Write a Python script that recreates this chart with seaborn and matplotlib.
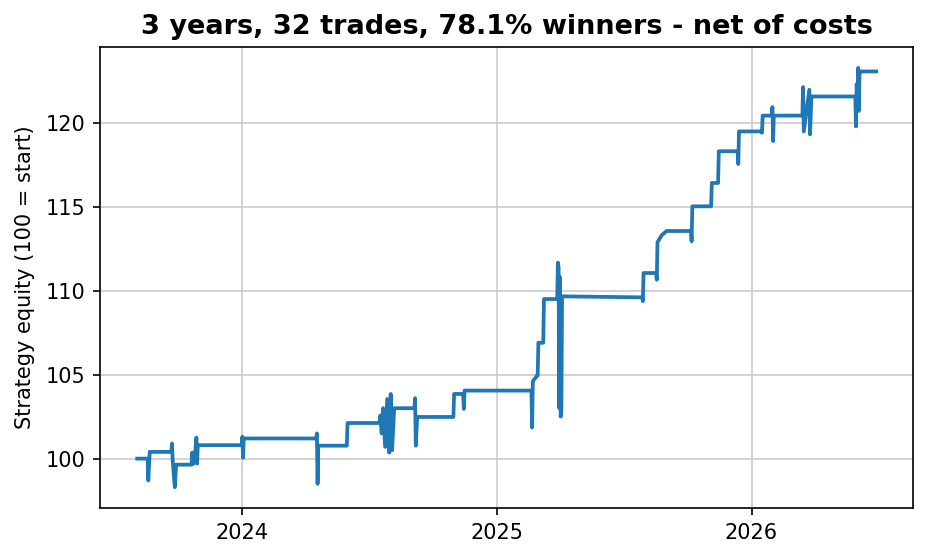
import pandas as pd
import matplotlib
matplotlib.use("Agg")
import matplotlib.pyplot as plt
import matplotlib.dates as mdates
import seaborn as sns

# equity curve (date, equity)
dates = [
    "2023-08-03", "2023-08-18", "2023-08-19", "2023-08-21", "2023-09-21",
    "2023-09-22", "2023-09-23", "2023-09-26", "2023-09-28", "2023-10-20",
    "2023-10-21", "2023-10-23", "2023-10-25", "2023-10-27", "2023-10-28",
    "2023-10-29", "2023-12-31", "2024-01-01", "2024-01-02", "2024-01-03",
    "2024-04-16", "2024-04-17", "2024-04-18", "2024-04-19", "2024-05-30",
    "2024-05-31", "2024-07-16", "2024-07-17", "2024-07-19", "2024-07-21",
    "2024-07-24", "2024-07-27", "2024-07-30", "2024-08-01", "2024-08-03",
    "2024-08-06", "2024-09-04", "2024-09-05", "2024-09-06", "2024-09-08",
    "2024-10-30", "2024-10-31", "2024-11-13", "2024-11-14", "2024-11-15",
    "2025-02-19", "2025-02-20", "2025-02-21", "2025-02-27", "2025-02-28",
    "2025-03-01", "2025-03-08", "2025-03-09", "2025-03-28", "2025-03-29",
    "2025-03-30", "2025-03-31", "2025-04-01", "2025-04-02", "2025-04-03",
    "2025-04-04", "2025-07-28", "2025-07-29", "2025-07-30",
    "2025-08-17", "2025-08-18", "2025-08-19", "2025-08-25", "2025-09-01",
    "2025-10-06", "2025-10-07", "2025-10-08", "2025-11-04", "2025-11-05",
    "2025-11-14", "2025-11-15", "2025-12-12", "2025-12-13", "2025-12-14",
    "2026-01-15", "2026-01-16", "2026-01-17", "2026-01-30", "2026-01-31",
    "2026-02-01", "2026-02-02", "2026-03-15", "2026-03-16", "2026-03-17",
    "2026-03-25", "2026-03-26", "2026-03-28", "2026-05-30", "2026-05-31",
    "2026-06-01", "2026-06-02", "2026-06-03", "2026-06-04", "2026-06-05",
    "2026-06-06", "2026-06-29",
]
equity = [
    100.0, 100.0, 98.7, 100.4, 100.4,
    100.9, 99.85, 98.3, 99.64, 99.64,
    100.36, 99.7, 100.2, 101.25, 99.7,
    100.8, 100.8, 101.3, 100.05, 101.2,
    101.2, 101.5, 98.5, 100.77, 100.77,
    102.12, 102.12, 102.56, 101.5, 103.0,
    100.7, 103.55, 100.36, 103.85, 100.5,
    103.0, 103.0, 103.6, 100.77, 102.48,
    102.48, 103.85, 103.85, 102.96, 104.05,
    104.05, 101.85, 104.6, 104.94, 104.94,
    106.9, 106.9, 109.5, 109.5, 111.67,
    111.4, 103.0, 110.8, 102.5, 102.8,
    109.66, 109.6, 109.37, 111.05,
    111.05, 110.65, 112.88, 113.3, 113.55,
    113.55, 112.94, 115.02, 115.02, 116.41,
    116.41, 118.3, 118.3, 117.54, 119.48,
    119.48, 119.4, 120.42, 120.42, 120.93,
    118.9, 120.42, 120.42, 122.12, 119.48,
    121.96, 119.3, 121.56, 121.56, 119.78,
    122.3, 120.9, 123.26, 120.7, 122.8,
    123.05, 123.05,
]

title = "3 years, 32 trades, 78.1% winners - net of costs"

df = pd.DataFrame({"date": pd.to_datetime(dates), "equity": equity})

fig, ax = plt.subplots(figsize=(928 / 150, 559 / 150), dpi=150)
sns.lineplot(data=df, x="date", y="equity", ax=ax, color="#1f77b4",
             linewidth=1.8, estimator=None, sort=False)

ax.grid(True, color="0.8", linewidth=0.8)
ax.set_axisbelow(True)
ax.xaxis.set_major_locator(mdates.YearLocator())
ax.xaxis.set_major_formatter(mdates.DateFormatter("%Y"))
ax.set_xlabel("")
ax.set_ylabel("Strategy equity (100 = start)", labelpad=5)
ax.set_title(title, fontweight="bold", fontsize=13)

fig.subplots_adjust(left=0.108, right=0.984, top=0.916, bottom=0.091)
fig.savefig("out.png", dpi=150)
